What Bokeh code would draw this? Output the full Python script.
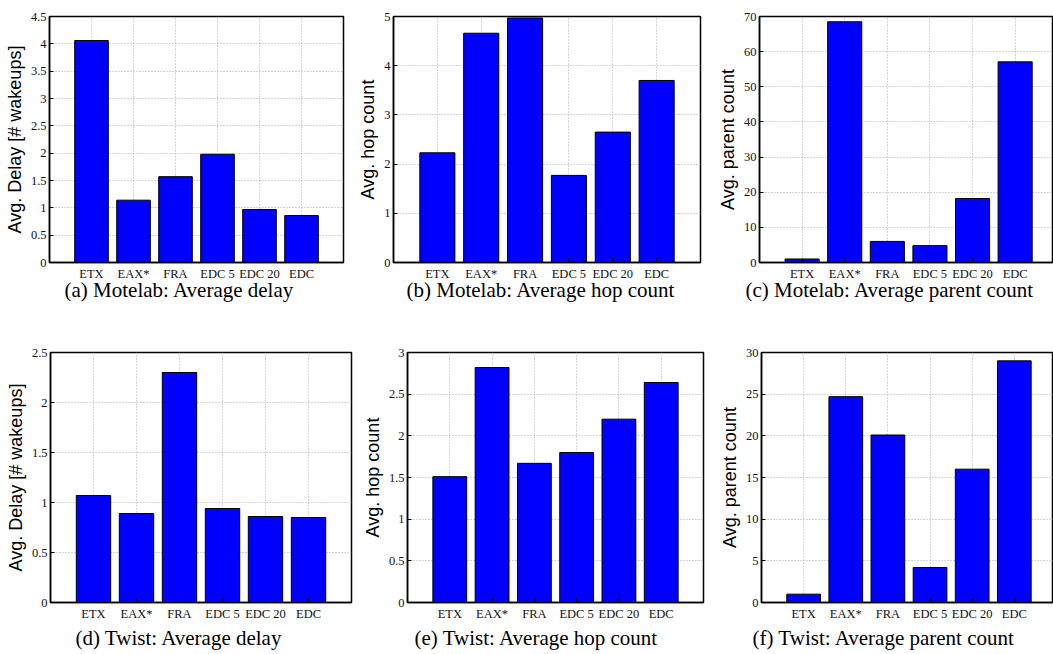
from bokeh.plotting import figure
from bokeh.layouts import row, column
from bokeh.models import (Range1d, FixedTicker, Title,
                          CustomJSTickFormatter, ColumnDataSource)
from bokeh.embed import file_html
from bokeh.resources import INLINE

# ---------------- data ----------------
categories = ["ETX", "EAX*", "FRA", "EDC 5", "EDC 20", "EDC"]

motelab_delay = [4.06, 1.14, 1.57, 1.98, 0.97, 0.86]
motelab_hops = [2.23, 4.66, 4.97, 1.77, 2.65, 3.70]
motelab_parents = [1.0, 68.5, 6.0, 4.8, 18.2, 57.1]
twist_delay = [1.07, 0.89, 2.30, 0.94, 0.86, 0.85]
twist_hops = [1.51, 2.82, 1.67, 1.80, 2.20, 2.64]
twist_parents = [1.0, 24.7, 20.1, 4.2, 16.0, 29.0]

ticks_motelab_delay = [0, 0.5, 1, 1.5, 2, 2.5, 3, 3.5, 4, 4.5]
ticks_motelab_hops = [0, 1, 2, 3, 4, 5]
ticks_motelab_parents = [0, 10, 20, 30, 40, 50, 60, 70]
ticks_twist_delay = [0, 0.5, 1, 1.5, 2, 2.5]
ticks_twist_hops = [0, 0.5, 1, 1.5, 2, 2.5, 3]
ticks_twist_parents = [0, 5, 10, 15, 20, 25, 30]

label_delay = "Avg. Delay [# wakeups]"
label_hops = "Avg. hop count"
label_parents = "Avg. parent count"

captions = [
    "(a) Motelab: Average delay",
    "(b) Motelab: Average hop count",
    "(c) Motelab: Average parent count",
    "(d) Twist: Average delay",
    "(e) Twist: Average hop count",
    "(f) Twist: Average parent count",
]

SERIF = "Liberation Serif"
SANS = "Liberation Sans"


def panel(values, yticks, ylabel, caption, width, height, borders,
          xend, cap_offset, cap_standoff):
    left, right, top, bottom = borders
    xs = [i + 1 for i in range(len(categories))]
    src = ColumnDataSource(dict(x=xs, top=values, cat=categories))
    p = figure(width=width, height=height, output_backend="svg",
               toolbar_location=None, x_range=Range1d(0, xend),
               y_range=Range1d(yticks[0], yticks[-1]),
               min_border_left=left, min_border_right=right,
               min_border_top=top, min_border_bottom=bottom,
               background_fill_color="white", border_fill_color="white")
    p.outline_line_color = "black"
    p.outline_line_width = 1.5

    p.vbar(x="x", top="top", width=0.8, source=src,
           fill_color="#0000ff", line_color="black", line_width=1)

    xt = FixedTicker(ticks=xs)
    yt = FixedTicker(ticks=yticks)
    fmt = CustomJSTickFormatter(code="return tick.toString();")

    xa = p.xaxis[0]
    xa.ticker = xt
    xa.major_label_overrides = {x: c for x, c in zip(xs, categories)}
    ya = p.yaxis[0]
    ya.ticker = yt
    ya.formatter = fmt
    for ax in (xa, ya):
        ax.axis_line_color = "black"
        ax.axis_line_width = 1.5
        ax.major_tick_in = 4
        ax.major_tick_out = 0
        ax.major_tick_line_color = "black"
        ax.minor_tick_in = 0
        ax.minor_tick_out = 0
        ax.major_label_text_font = SERIF
        ax.major_label_text_font_size = "12.5px"
        ax.major_label_text_color = "#111111"
        ax.major_label_standoff = 3
    xa.major_label_standoff = 4
    ya.axis_label = ylabel
    ya.axis_label_text_font = SANS
    ya.axis_label_text_font_size = "18px"
    ya.axis_label_text_font_style = "normal"
    ya.axis_label_text_color = "black"
    ya.axis_label_standoff = 3

    for g, t in ((p.xgrid[0], xt), (p.ygrid[0], yt)):
        g.ticker = t
        g.grid_line_color = "#aaaaaa"
        g.grid_line_dash = "1 2"
        g.grid_line_width = 1

    p.add_layout(Title(text=caption, align="left", offset=cap_offset,
                       standoff=cap_standoff, vertical_align="top",
                       text_font=SERIF, text_font_size="21px",
                       text_font_style="normal", text_color="black"),
                 "below")
    return p


fa = panel(motelab_delay, ticks_motelab_delay, label_delay, captions[0],
           355, 320, (49, 12, 16, 55), 7, 15, -12)
fb = panel(motelab_hops, ticks_motelab_hops, label_hops, captions[1],
           359, 320, (37, 14, 6, 58), 7, 13, -12)
fc = panel(motelab_parents, ticks_motelab_parents, label_parents, captions[2],
           339, 320, (39, 0, 6, 58), 6.9, -14, -12)
fd = panel(twist_delay, ticks_twist_delay, label_delay, captions[3],
           359, 334, (50, 8, 32, 50), 7, 25, 5)
fe = panel(twist_hops, ticks_twist_hops, label_hops, captions[4],
           357, 334, (44, 13, 30, 51), 7, 7, 5)
ff = panel(twist_parents, ticks_twist_parents, label_parents, captions[5],
           337, 334, (39, 0, 32, 51), 6.93, -9, 5)

layout = column(row(fa, fb, fc, spacing=0), row(fd, fe, ff, spacing=0),
                spacing=0)

open("out.html", "w").write(file_html(layout, INLINE))
